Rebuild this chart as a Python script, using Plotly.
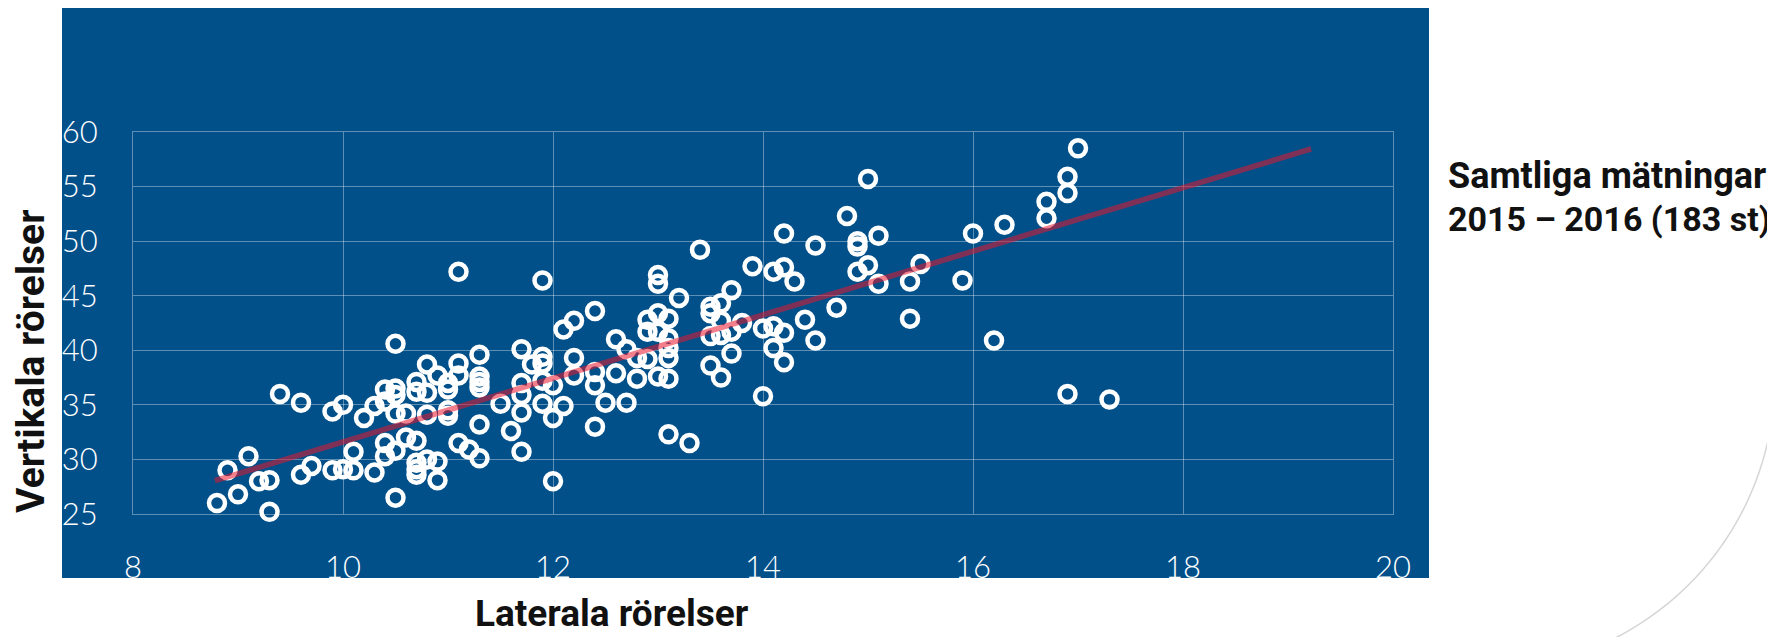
import numpy as np
import plotly.graph_objects as go

# ---------------- data ----------------
lateral = [
    8.8, 8.9, 9.0, 9.1, 9.2, 9.3, 9.3, 9.4, 9.6, 9.6, 9.7, 9.9, 9.9, 10.0, 10.0,
    10.1, 10.1, 10.2, 10.3, 10.3, 10.4, 10.4, 10.4, 10.4,
    10.5, 10.5, 10.5, 10.5, 10.5, 10.5, 10.6, 10.6,
    10.7, 10.7, 10.7, 10.7, 10.7, 10.7, 10.8, 10.8, 10.8, 10.8,
    10.9, 10.9, 10.9, 11.0, 11.0, 11.0, 11.0, 11.1, 11.1, 11.1, 11.1, 11.2,
    11.3, 11.3, 11.3, 11.3, 11.3, 11.3, 11.5, 11.6,
    11.7, 11.7, 11.7, 11.7, 11.7, 11.8, 11.9, 11.9, 11.9, 11.9, 11.9,
    12.0, 12.0, 12.0, 12.1, 12.1, 12.2, 12.2, 12.2, 12.4, 12.4, 12.4, 12.4, 12.5,
    12.6, 12.6, 12.7, 12.7, 12.8, 12.8, 12.9, 12.9, 12.9,
    13.0, 13.0, 13.0, 13.0, 13.0, 13.1, 13.1, 13.1, 13.1, 13.1, 13.1,
    13.2, 13.3, 13.4, 13.5, 13.5, 13.5, 13.5, 13.6, 13.6, 13.6, 13.6,
    13.7, 13.7, 13.7, 13.8, 13.9, 14.0, 14.0, 14.1, 14.1, 14.1,
    14.2, 14.2, 14.2, 14.2, 14.3, 14.4, 14.5, 14.5, 14.7, 14.8,
    14.9, 14.9, 14.9, 15.0, 15.0, 15.1, 15.1, 15.4, 15.4, 15.5, 15.9,
    16.0, 16.2, 16.3, 16.7, 16.7, 16.9, 16.9, 16.9, 17.0, 17.3,
]
vertical = [
    26.0, 29.0, 26.8, 30.3, 28.0, 28.1, 25.2, 36.0, 35.2, 28.6, 29.4, 34.4, 29.0, 35.0, 29.1,
    29.0, 30.7, 33.8, 34.9, 28.8, 36.4, 35.3, 31.5, 30.3,
    40.6, 36.5, 35.9, 34.2, 30.8, 26.5, 34.2, 32.0,
    37.1, 36.2, 31.7, 29.7, 29.1, 28.6, 38.7, 36.1, 34.1, 30.0,
    37.7, 29.8, 28.1, 37.0, 36.4, 34.5, 34.0, 47.2, 38.8, 37.7, 31.5, 30.9,
    39.6, 37.6, 37.1, 36.6, 33.2, 30.1, 35.1, 32.6,
    40.1, 37.0, 35.9, 34.3, 30.7, 38.7, 46.4, 39.4, 38.8, 37.2, 35.1,
    36.8, 33.8, 28.0, 41.9, 34.9, 42.7, 39.3, 37.7, 43.6, 38.0, 36.8, 33.0, 35.2,
    41.0, 37.9, 40.1, 35.2, 39.3, 37.4, 42.8, 41.7, 39.2,
    46.9, 46.1, 43.4, 41.7, 37.6, 42.9, 41.1, 40.2, 39.3, 37.4, 32.3,
    44.8, 31.5, 49.2, 44.0, 43.4, 41.3, 38.6, 44.3, 42.7, 41.4, 37.5,
    45.5, 41.7, 39.7, 42.5, 47.7, 42.0, 35.8, 47.2, 42.2, 40.2,
    50.7, 47.6, 41.6, 38.9, 46.3, 42.8, 49.6, 40.9, 43.9, 52.3,
    50.0, 49.5, 47.2, 55.7, 47.8, 50.5, 46.1, 46.3, 42.9, 47.9, 46.4,
    50.7, 40.9, 51.5, 53.6, 52.1, 55.9, 54.4, 36.0, 58.5, 35.5,
]
trend_x = [8.78, 19.22]
trend_y = [28.05, 58.45]

x_ticks = [8, 10, 12, 14, 16, 18, 20]
y_ticks = [25, 30, 35, 40, 45, 50, 55, 60]
x_title = "Laterala rörelser"
y_title = "Vertikala rörelser"
note_lines = ["Samtliga mätningar", "2015 – 2016 (183 st)"]

# ---------------- layout helpers ----------------
OFF = 8                      # page body margin
W, H = 1767, 629
L, T, PW, PH = 125, 124, 1260, 382
R, B = W - L - PW, H - T - PH


def px(x):                   # x in page pixels -> paper fraction
    return (x - OFF - L) / PW


def py(y):                   # y in page pixels -> paper fraction
    return (T + PH - (y - OFF)) / PH


BLUE = "#02508A"
GRID = "rgba(255,255,255,0.36)"

fig = go.Figure()
fig.add_trace(go.Scatter(
    x=lateral, y=vertical, mode="markers",
    marker=dict(symbol="circle-open", size=16, color="white",
                line=dict(width=4.5, color="white")),
    cliponaxis=False, showlegend=False, hoverinfo="x+y",
))
fig.add_trace(go.Scatter(
    x=trend_x, y=trend_y, mode="lines",
    line=dict(color="rgba(232,22,44,0.55)", width=5.5),
    cliponaxis=False, showlegend=False, hoverinfo="skip",
))

# blue background panel
shapes = [dict(type="rect", xref="paper", yref="paper",
               x0=px(62), x1=px(1429), y0=py(578), y1=py(6),
               fillcolor=BLUE, line=dict(width=0), layer="below")]

# decorative light grey arc at lower right
cx, cy, rad = 1482, 377, 293
th = np.linspace(0, np.deg2rad(66), 60)
ax_ = cx + rad * np.cos(th)
ay_ = cy + rad * np.sin(th)
path = "M " + " L ".join(f"{px(a):.5f},{py(b):.5f}" for a, b in zip(ax_, ay_))
shapes.append(dict(type="path", xref="paper", yref="paper", path=path,
                   line=dict(color="#d6d6d6", width=1.5), layer="below"))

title_font = dict(family="Roboto", size=37, color="#111111", weight=700)
annotations = [
    dict(text=x_title, xref="paper", yref="paper", x=px(612), y=py(613),
         xanchor="center", yanchor="middle", showarrow=False, font=title_font),
    dict(text=y_title, xref="paper", yref="paper", x=px(31), y=py(362),
         xanchor="center", yanchor="middle", textangle=-90, showarrow=False,
         font=dict(title_font, size=39)),
    dict(text=note_lines[0], xref="paper", yref="paper", x=px(1446), y=py(176),
         xanchor="left", yanchor="middle", showarrow=False,
         font=dict(family="Roboto", size=36, color="#111111", weight=700)),
    dict(text=note_lines[1], xref="paper", yref="paper", x=px(1446), y=py(219),
         xanchor="left", yanchor="middle", showarrow=False,
         font=dict(family="Roboto", size=34, color="#111111", weight=700)),
]

tickfont = dict(family="Lato", size=31, color="white", weight=300)
fig.update_layout(
    width=W, height=H,
    margin=dict(l=L, r=R, t=T, b=B, pad=0),
    paper_bgcolor="white", plot_bgcolor=BLUE,
    shapes=shapes, annotations=annotations,
    xaxis=dict(range=[8, 20], tickvals=x_ticks, ticktext=[str(v) for v in x_ticks],
               showgrid=True, gridcolor=GRID, gridwidth=1, zeroline=False,
               showline=True, mirror=True, linecolor=GRID, linewidth=1,
               ticks="", tickfont=tickfont, ticklabelstandoff=26),
    yaxis=dict(range=[25, 60], tickvals=y_ticks, ticktext=[str(v) for v in y_ticks],
               showgrid=True, gridcolor=GRID, gridwidth=1, zeroline=False,
               showline=True, mirror=True, linecolor=GRID, linewidth=1,
               ticks="", tickfont=tickfont, ticklabelstandoff=28),
)

fig.write_html("out.html")
